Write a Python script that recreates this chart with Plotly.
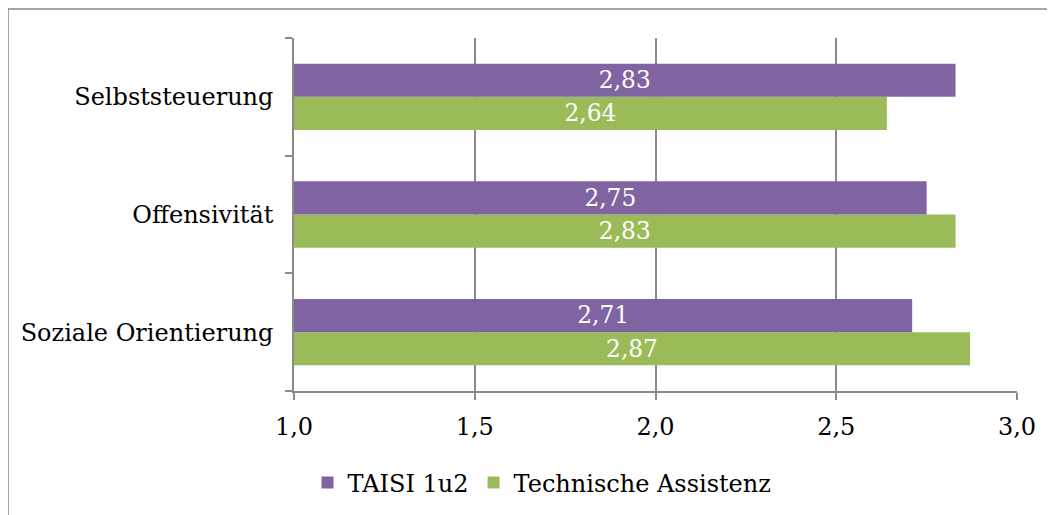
import plotly.graph_objects as go

categories = ["Soziale Orientierung", "Offensivität", "Selbststeuerung"]
taisi = [2.71, 2.75, 2.83]
technische = [2.87, 2.83, 2.64]
series_names = ["TAISI 1u2", "Technische Assistenz"]
x_ticks = [1.0, 1.5, 2.0, 2.5, 3.0]
x_tick_labels = ["1,0", "1,5", "2,0", "2,5", "3,0"]
axis_min = 1.0

FONT = "DejaVu Serif"
FS = 24
PURPLE = "#8064A2"
GREEN = "#9BBB59"
GRAY = "#8a8a8a"

def fmt(v):
    return f"{v:.2f}".replace(".", ",")

fig = go.Figure()
for name, vals, col in [(series_names[1], technische, GREEN), (series_names[0], taisi, PURPLE)]:
    fig.add_trace(go.Bar(
        y=categories, x=[v - axis_min for v in vals], base=axis_min,
        name=name, orientation="h",
        marker=dict(color=col, line=dict(width=0)),
        text=[fmt(v) for v in vals],
        textposition="inside", insidetextanchor="middle",
        textfont=dict(color="white", size=FS, family=FONT),
        hovertemplate="%{y}: %{text}<extra>" + name + "</extra>",
    ))

# page offset (body margin) ~8px
OFF = 8
W, H = 1055 - OFF, 515 - OFF
ml, mt = 294 - OFF, 38 - OFF
plot_right, plot_bottom = 1017 - OFF, 391 - OFF
mr, mb = W - plot_right, H - plot_bottom
pw, ph = W - ml - mr, H - mt - mb

fig.update_layout(
    width=W, height=H,
    margin=dict(l=ml, r=mr, t=mt, b=mb, autoexpand=False),
    barmode="group", bargap=0.436, bargroupgap=0,
    plot_bgcolor="white", paper_bgcolor="white",
    font=dict(family=FONT, size=FS, color="black"),
    showlegend=True,
    legend=dict(orientation="h", traceorder="reversed",
                x=(542 - OFF - ml) / pw, xanchor="center",
                y=-(483 - OFF - plot_bottom) / ph, yanchor="middle",
                font=dict(size=FS, family=FONT), itemwidth=30),
    xaxis=dict(range=[1.0, 3.0], tickvals=x_ticks, ticktext=x_tick_labels,
               showgrid=True, gridcolor=GRAY, gridwidth=1.5,
               showline=True, linecolor=GRAY, linewidth=1.5,
               ticks="outside", ticklen=7, tickcolor=GRAY, tickwidth=1.5,
               ticklabelstandoff=6,
               tickfont=dict(size=FS, family=FONT), zeroline=False),
    yaxis=dict(showline=True, linecolor=GRAY, linewidth=1.5,
               ticks="outside", ticklen=7, tickcolor=GRAY, tickwidth=1.5,
               tickson="boundaries", showgrid=False, ticklabelstandoff=14,
               tickfont=dict(size=FS, family=FONT)),
    shapes=[dict(type="rect", xref="paper", yref="paper",
                 x0=-ml / pw, x1=(W + 5 - ml) / pw,
                 y0=-(mb + 5) / ph, y1=(ph + mt - 1) / ph,
                 line=dict(color=GRAY, width=1.5), layer="below")],
)

fig.write_html("out.html")
